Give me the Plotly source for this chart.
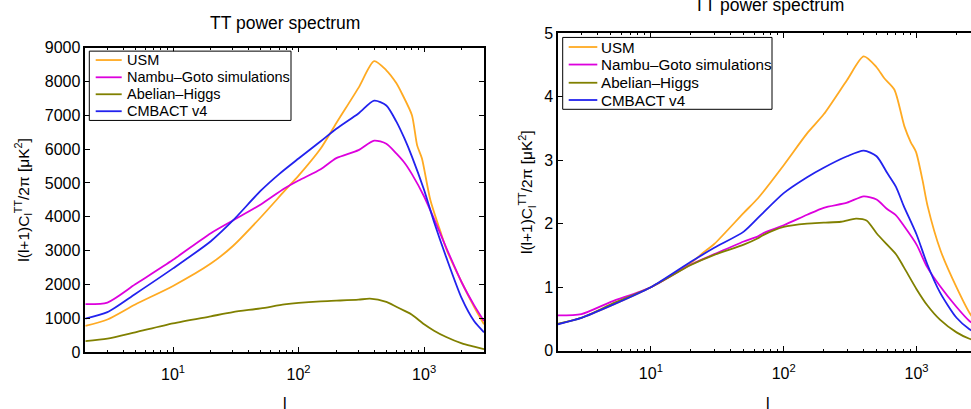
import numpy as np
import plotly.graph_objects as go

# ---------------- data: left panel (absolute, muK^2) ----------------
l_usm_a = [2, 3, 5, 10, 20, 30, 50, 77, 100, 150, 200, 300, 400, 500, 600, 670, 800, 880, 960, 1120, 1350, 1520, 2000, 2500, 3000]
usm_a = [774, 963, 1407, 1955, 2616, 3135, 3985, 4755, 5213, 6015, 6771, 7810, 8600, 8329, 7951, 7620, 7000, 6110, 5730, 4500, 3560, 3000, 2049, 1341, 822]

l_ng_a = [2, 3, 5, 10, 20, 30, 50, 77, 100, 150, 200, 300, 400, 500, 600, 700, 800, 1000, 1200, 1500, 2000, 2500, 3000]
ng_a = [1417, 1464, 2002, 2729, 3513, 3890, 4363, 4835, 5071, 5402, 5732, 5968, 6251, 6157, 5873, 5590, 5260, 4599, 3938, 3088, 2049, 1388, 916]

l_ah_a = [2, 3, 5, 10, 20, 30, 50, 77, 100, 150, 200, 300, 370, 500, 600, 700, 800, 1000, 1200, 1500, 2000, 2500, 3000]
ah_a = [321, 397, 585, 850, 1058, 1180, 1294, 1407, 1454, 1501, 1520, 1549, 1577, 1482, 1341, 1218, 1105, 822, 633, 444, 255, 161, 85]

l_cm_a = [2, 3, 5, 10, 20, 30, 50, 70, 100, 150, 200, 300, 400, 500, 600, 700, 800, 1000, 1200, 1500, 2000, 2500, 3000]
cm_a = [992, 1181, 1719, 2474, 3277, 3890, 4770, 5260, 5720, 6230, 6601, 7054, 7432, 7290, 6818, 6299, 5779, 4788, 3844, 2805, 1577, 916, 585]

# ---------------- data: right panel (normalised at l=10) ----------------
l_usm_n = [2, 3, 5, 10, 20, 25, 30, 50, 64, 100, 150, 200, 300, 400, 500, 570, 680, 810, 905, 990, 1110, 1210, 1520, 2030, 2550, 3000]
usm_n = [0.42, 0.52, 0.71, 1.0, 1.38, 1.55, 1.68, 2.17, 2.40, 2.92, 3.42, 3.72, 4.26, 4.63, 4.46, 4.29, 4.11, 3.53, 3.28, 3.13, 2.68, 2.28, 1.57, 0.97, 0.57, 0.40]

l_ng_n = [2, 3, 5, 10, 20, 30, 50, 64, 70, 100, 150, 200, 300, 400, 500, 600, 700, 800, 1000, 1200, 1500, 2000, 2500, 3000]
ng_n = [0.558, 0.578, 0.77, 1.0, 1.357, 1.52, 1.72, 1.80, 1.85, 1.975, 2.14, 2.25, 2.33, 2.43, 2.38, 2.23, 2.13, 1.97, 1.67, 1.32, 1.02, 0.69, 0.47, 0.36]

l_ah_n = [2, 3, 5, 10, 20, 30, 50, 64, 70, 100, 150, 200, 270, 350, 420, 500, 600, 700, 800, 1000, 1200, 1500, 2000, 2500, 3000]
ah_n = [0.428, 0.518, 0.73, 1.0, 1.35, 1.51, 1.67, 1.77, 1.82, 1.95, 2.0, 2.015, 2.03, 2.08, 2.05, 1.85, 1.67, 1.52, 1.32, 0.97, 0.72, 0.49, 0.29, 0.19, 0.14]

l_cm_n = [2, 3, 5, 10, 20, 30, 50, 64, 70, 100, 150, 200, 300, 400, 500, 600, 700, 800, 1000, 1200, 1500, 2000, 2500, 3000]
cm_n = [0.418, 0.518, 0.71, 1.0, 1.40, 1.62, 1.875, 2.09, 2.17, 2.48, 2.73, 2.88, 3.06, 3.15, 3.06, 2.80, 2.58, 2.28, 1.83, 1.37, 0.92, 0.52, 0.34, 0.25]

names = ["USM", "Nambu\u2013Goto simulations", "Abelian\u2013Higgs", "CMBACT v4"]
colors = ["#FFAA22", "#DD00DD", "#808000", "#2222EE"]

x_tick_vals = [10, 100, 1000]
x_tick_text = ["10<sup>1</sup>", "10<sup>2</sup>", "10<sup>3</sup>"]
x_minor_vals = [2, 3, 4, 5, 6, 7, 8, 9, 20, 30, 40, 50, 60, 70, 80, 90,
                200, 300, 400, 500, 600, 700, 800, 900, 2000, 3000]

W, H = 971, 409
FONT = "Liberation Sans, Arial, Helvetica, sans-serif"

fig = go.Figure()
left = [(l_usm_a, usm_a), (l_ng_a, ng_a), (l_ah_a, ah_a), (l_cm_a, cm_a)]
right = [(l_usm_n, usm_n), (l_ng_n, ng_n), (l_ah_n, ah_n), (l_cm_n, cm_n)]
for (lx, vy), nm, c in zip(left, names, colors):
    fig.add_trace(go.Scatter(x=lx, y=vy, mode="lines", name=nm, xaxis="x", yaxis="y",
                             line=dict(color=c, width=1.8, shape="spline", smoothing=0.7),
                             showlegend=False))
for (lx, vy), nm, c in zip(right, names, colors):
    fig.add_trace(go.Scatter(x=lx, y=vy, mode="lines", name=nm, xaxis="x2", yaxis="y2",
                             line=dict(color=c, width=1.8, shape="spline", smoothing=0.7),
                             showlegend=False))


def px(v):
    return v / W


def py(v):
    return 1 - v / H


common = dict(showline=True, linecolor="black", linewidth=1.5, ticks="inside", ticklen=5,
              tickwidth=1, tickcolor="black", showgrid=False, zeroline=False,
              tickfont=dict(family=FONT, size=16, color="black"))
xcommon = dict(type="log", tickmode="array", tickvals=x_tick_vals, ticktext=x_tick_text,
               ticklabelstandoff=7,
               minor=dict(ticks="inside", ticklen=2.5, tickcolor="black", showgrid=False,
                          tickmode="array", tickvals=x_minor_vals), **common)

fig.update_layout(
    width=W, height=H, margin=dict(l=0, r=0, t=0, b=0),
    paper_bgcolor="white", plot_bgcolor="white",
    font=dict(family=FONT, color="black"),
    showlegend=False,
    xaxis=dict(domain=[px(85.3), px(484)], range=[np.log10(2), np.log10(3000)], anchor="y",
               mirror="allticks", **xcommon),
    yaxis=dict(domain=[py(359), py(41.3)], range=[0, 9000], dtick=1000, anchor="x",
               mirror="allticks", **common),
    xaxis2=dict(domain=[px(558), 1.0], range=[np.log10(2), np.log10(2) + 413 / 132.85], anchor="y2",
                mirror="allticks", **xcommon),
    yaxis2=dict(domain=[py(357.7), py(26)], range=[0, 5], dtick=1, anchor="x2",
                mirror=False, **common),
)

# ---- legends (box, line samples, labels) in paper coordinates ----
shapes = []
ann = []


def add_legend(box, x_line, x_text, rows, fsize):
    x0, y0, x1, y1 = box
    shapes.append(dict(type="rect", xref="paper", yref="paper", x0=px(x0), x1=px(x1),
                       y0=py(y1), y1=py(y0), line=dict(color="black", width=1),
                       fillcolor="white", layer="above"))
    for nm, c, yr in zip(names, colors, rows):
        shapes.append(dict(type="line", xref="paper", yref="paper", x0=px(x_line[0]), x1=px(x_line[1]),
                           y0=py(yr), y1=py(yr), line=dict(color=c, width=1.8), layer="above"))
        ann.append(dict(text=nm, x=px(x_text), y=py(yr), xref="paper", yref="paper",
                        showarrow=False, xanchor="left", yanchor="middle",
                        font=dict(family=FONT, size=fsize, color="black")))


add_legend((89.3, 45, 291, 117.3), (95.7, 121.7), 124.5, [54.3, 72.3, 90, 107.7], 14.5)
add_legend((562.7, 30.7, 772, 105.7), (568.7, 597.3), 598.8, [40.7, 59, 78, 96], 15.2)

title_font = dict(family=FONT, size=17.5, color="black")
ann.append(dict(text="TT power spectrum", x=px(284.7), y=py(16), xref="paper", yref="paper",
                showarrow=False, xanchor="center", yanchor="middle", font=title_font))
ann.append(dict(text="TT power spectrum", x=px(769), y=py(-3), xref="paper", yref="paper",
                showarrow=False, xanchor="center", yanchor="middle", font=title_font))
ylab = "l(l+1)C<sub>l</sub><sup>TT</sup>/2\u03c0 [\u03bcK<sup>2</sup>]"
ann.append(dict(text=ylab, x=px(23), y=py(200), xref="paper", yref="paper", textangle=-90,
                showarrow=False, xanchor="center", yanchor="middle",
                font=dict(family=FONT, size=15.5, color="black")))
ann.append(dict(text=ylab, x=px(527), y=py(192), xref="paper", yref="paper", textangle=-90,
                showarrow=False, xanchor="center", yanchor="middle",
                font=dict(family=FONT, size=15.5, color="black")))
ann.append(dict(text="l", x=px(284.7), y=py(413), xref="paper", yref="paper",
                showarrow=False, xanchor="center", yanchor="middle", font=dict(family=FONT, size=16, color="black")))
ann.append(dict(text="l", x=px(768), y=py(413), xref="paper", yref="paper",
                showarrow=False, xanchor="center", yanchor="middle", font=dict(family=FONT, size=16, color="black")))
fig.update_layout(annotations=ann, shapes=shapes)

fig.write_html("out.html")
